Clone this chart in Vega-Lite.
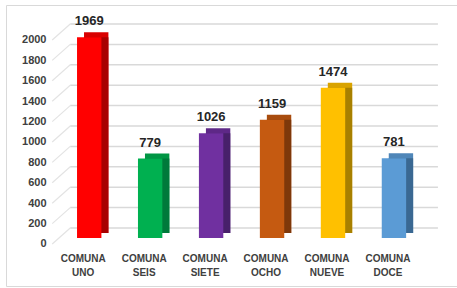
{
  "$schema": "https://vega.github.io/schema/vega-lite/v6.json",
  "width": 451,
  "height": 281,
  "autosize": "none",
  "padding": {"left": 6, "top": 5, "right": 0, "bottom": 2},
  "background": "white",
  "config": {
    "view": {"stroke": "#D9D9D9", "strokeWidth": 1},
    "font": "Liberation Sans",
    "axisY": {"labelOverlap": false, "labelBound": false, "labelFlush": false, "format": "d", "tickCount": 30}
  },
  "data": {"values": [
    {"comuna": "COMUNA UNO", "valor": 1969},
    {"comuna": "COMUNA SEIS", "valor": 779},
    {"comuna": "COMUNA SIETE", "valor": 1026},
    {"comuna": "COMUNA OCHO", "valor": 1159},
    {"comuna": "COMUNA NUEVE", "valor": 1474},
    {"comuna": "COMUNA DOCE", "valor": 781}
  ]},
  "encoding": {
    "x": {
      "field": "comuna", "type": "nominal", "sort": null,
      "scale": {
        "domain": ["COMUNA UNO", "COMUNA SEIS", "COMUNA SIETE", "COMUNA OCHO", "COMUNA NUEVE", "COMUNA DOCE"],
        "paddingInner": 0.6, "paddingOuter": 1.0583, "align": 0.5827
      },
      "axis": {
        "title": null, "labelAngle": 0, "domain": false, "ticks": false, "tickSize": 0,
        "labelPadding": 0, "offset": -33, "labelOffset": -6,
        "labelExpr": "split(datum.label, ' ')", "labelLineHeight": 14,
        "labelFont": "Liberation Sans", "labelFontSize": 10, "labelFontWeight": "bold", "labelColor": "#404040"
      }
    }
  },
  "layer": [
    {
      "data": {"values": [{"v": 0}, {"v": 200}, {"v": 400}, {"v": 600}, {"v": 800}, {"v": 1000}, {"v": 1200}, {"v": 1400}, {"v": 1600}, {"v": 1800}, {"v": 2000}]},
      "mark": {"type": "rule", "color": "#D9D9D9", "strokeWidth": 1.5, "xOffset": -19, "x2Offset": 44, "yOffset": -10},
      "encoding": {
        "x": {"datum": "COMUNA UNO", "type": "nominal"},
        "x2": {"datum": "COMUNA DOCE"},
        "y": {"field": "v", "type": "quantitative", "scale": {"domain": [-470.6, 2284.3], "nice": false, "zero": false},
          "axis": {"title": null, "values": [0, 200, 400, 600, 800, 1000, 1200, 1400, 1600, 1800, 2000], "format": "d",
                   "labelOverlap": false, "tickCount": 30,
                   "grid": false, "domain": false, "ticks": false, "tickSize": 0, "labelPadding": 0, "offset": -40,
                   "labelOffset": 6, "labelFont": "Liberation Sans", "labelFontSize": 11, "labelFontWeight": "bold", "labelColor": "#404040"}}
      }
    },
    {
      "data": {"values": [{"v": 0}, {"v": 200}, {"v": 400}, {"v": 600}, {"v": 800}, {"v": 1000}, {"v": 1200}, {"v": 1400}, {"v": 1600}, {"v": 1800}, {"v": 2000}]},
      "mark": {"type": "rule", "color": "#E3E3E3", "strokeWidth": 1.2, "xOffset": -37, "x2Offset": -19, "yOffset": 6, "y2Offset": -10},
      "encoding": {
        "x": {"datum": "COMUNA UNO", "type": "nominal"},
        "x2": {"datum": "COMUNA UNO"},
        "y": {"field": "v", "type": "quantitative"},
        "y2": {"field": "v"}
      }
    },
    {
      "mark": {"type": "bar", "xOffset": 7, "yOffset": -5, "y2Offset": -5},
      "encoding": {
        "y": {"field": "valor", "type": "quantitative"},
        "y2": {"datum": 0},
        "color": {"field": "comuna", "type": "nominal", "legend": null,
          "scale": {"domain": ["COMUNA UNO", "COMUNA SEIS", "COMUNA SIETE", "COMUNA OCHO", "COMUNA NUEVE", "COMUNA DOCE"],
                    "range": ["#D90000", "#009644", "#5E2887", "#A84C0E", "#D9A300", "#4F86B8"]}}
      }
    },
    {
      "mark": {"type": "bar", "xOffset": 7, "yOffset": 0, "y2Offset": -5},
      "encoding": {
        "y": {"field": "valor", "type": "quantitative"},
        "y2": {"datum": 0},
        "color": {"field": "comuna", "type": "nominal", "legend": null,
          "scale": {"domain": ["COMUNA UNO", "COMUNA SEIS", "COMUNA SIETE", "COMUNA OCHO", "COMUNA NUEVE", "COMUNA DOCE"],
                    "range": ["#A80000", "#00793A", "#48206A", "#7E380A", "#A88000", "#3A6892"]}}
      }
    },
    {
      "mark": {"type": "bar"},
      "encoding": {
        "y": {"field": "valor", "type": "quantitative"},
        "y2": {"datum": 0},
        "color": {"field": "comuna", "type": "nominal", "legend": null,
          "scale": {"domain": ["COMUNA UNO", "COMUNA SEIS", "COMUNA SIETE", "COMUNA OCHO", "COMUNA NUEVE", "COMUNA DOCE"],
                    "range": ["#FF0000", "#00B050", "#7030A0", "#C55A11", "#FFC000", "#5B9BD5"]}}
      }
    },
    {
      "mark": {"type": "text", "dy": -9, "baseline": "bottom", "fontSize": 13, "fontWeight": "bold", "color": "#262626", "font": "Liberation Sans"},
      "encoding": {
        "y": {"field": "valor", "type": "quantitative"},
        "text": {"field": "valor", "type": "quantitative"}
      }
    }
  ],
  "resolve": {"scale": {"color": "independent"}}
}
